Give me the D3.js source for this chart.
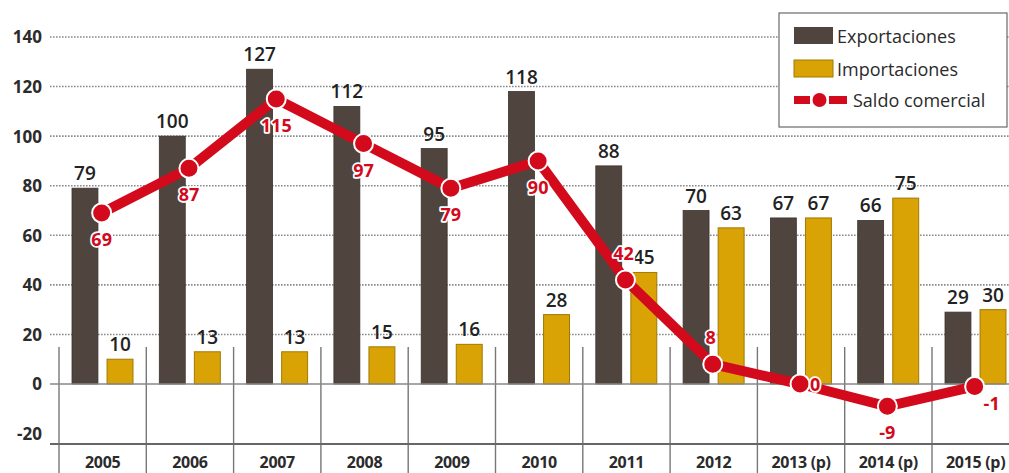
<!DOCTYPE html>
<html>
<head>
<meta charset="utf-8">
<script src="https://cdn.jsdelivr.net/npm/d3@7"></script>
<style>
  html, body { margin: 0; padding: 0; background: #fff; }
  svg { display: block; font-family: "Open Sans", "DejaVu Sans", sans-serif; }
</style>
</head>
<body>
<svg id="chart" width="1009" height="473"></svg>
<script>
// Balanza comercial: exportaciones, importaciones y saldo
const years = ["2005", "2006", "2007", "2008", "2009", "2010", "2011", "2012", "2013 (p)", "2014 (p)", "2015 (p)"];
const exportaciones = [79, 100, 127, 112, 95, 118, 88, 70, 67, 66, 29];
const importaciones = [10, 13, 13, 15, 16, 28, 45, 63, 67, 75, 30];
const saldo = [69, 87, 115, 97, 79, 90, 42, 8, 0, -9, -1];
const yTicks = [140, 120, 100, 80, 60, 40, 20, 0, -20];
const legendLabels = ["Exportaciones", "Importaciones", "Saldo comercial"];

// where each balance label sits relative to its point
const saldoLabelSide = ["below", "below", "below", "below", "below", "below", "above", "above", "right", "below", "belowright"];

const COL_EXP = "#4f453e", COL_IMP = "#d9a205", COL_IMP_EDGE = "#a07a00", COL_RED = "#d20a1c";

const svg = d3.select("#chart");
const W = 1009, H = 473;

const y = d3.scaleLinear().domain([0, 140]).range([384, 37]);
const x = d3.scaleBand().domain(years).range([59, 59 + 87.3 * years.length]).padding(0);
const sub = d3.scaleBand().domain(["exp", "imp"]).range([13, 74]).paddingInner(0.26);

const gridLeft = 50;

// dotted gridlines
const grid = svg.append("g");
yTicks.filter(t => t > 0).forEach(t => {
  grid.append("line")
    .attr("x1", gridLeft).attr("x2", W)
    .attr("y1", y(t)).attr("y2", y(t))
    .attr("stroke", "#8a8a8a").attr("stroke-width", 1.6)
    .attr("stroke-dasharray", "1.6,1.4");
});

// y axis labels (plain hyphen for negatives)
const yAxis = d3.axisLeft(y).tickValues(yTicks).tickSize(0).tickPadding(0)
  .tickFormat(d => String(d));
const ya = svg.append("g").attr("transform", "translate(42,0)").call(yAxis);
ya.select(".domain").remove();
ya.selectAll("text")
  .attr("font-family", "'Open Sans', sans-serif")
  .attr("font-size", 17).attr("font-weight", 700).attr("fill", "#2b2b2b")
  .attr("dy", "0.35em");

// category separators and bottom rule
years.forEach(yr => {
  svg.append("line")
    .attr("x1", x(yr)).attr("x2", x(yr))
    .attr("y1", 347).attr("y2", H)
    .attr("stroke", "#777").attr("stroke-width", 1.4);
});
svg.append("line")
  .attr("x1", gridLeft).attr("x2", W).attr("y1", 444).attr("y2", 444)
  .attr("stroke", "#666").attr("stroke-width", 2);

// bars
const barW = sub.bandwidth();
const gBars = svg.append("g");
years.forEach((yr, i) => {
  gBars.append("rect")
    .attr("x", x(yr) + sub("exp")).attr("width", barW)
    .attr("y", y(exportaciones[i])).attr("height", y(0) - y(exportaciones[i]))
    .attr("fill", COL_EXP).attr("stroke", "#3a322c").attr("stroke-width", 0.8);
  gBars.append("rect")
    .attr("x", x(yr) + sub("imp")).attr("width", barW)
    .attr("y", y(importaciones[i])).attr("height", y(0) - y(importaciones[i]))
    .attr("fill", COL_IMP).attr("stroke", COL_IMP_EDGE).attr("stroke-width", 1);
});

// zero baseline
svg.append("line")
  .attr("x1", gridLeft).attr("x2", W).attr("y1", y(0)).attr("y2", y(0))
  .attr("stroke", "#888").attr("stroke-width", 1.5);

// bar value labels
const gVals = svg.append("g")
  .attr("font-family", "'Open Sans', sans-serif")
  .attr("font-size", 19).attr("font-weight", 600).attr("fill", "#222")
  .attr("text-anchor", "middle");
years.forEach((yr, i) => {
  gVals.append("text")
    .attr("x", x(yr) + sub("exp") + barW / 2).attr("y", y(exportaciones[i]) - 8)
    .text(exportaciones[i]);
  gVals.append("text")
    .attr("x", x(yr) + sub("imp") + barW / 2).attr("y", y(importaciones[i]) - 8)
    .text(importaciones[i]);
});

// x labels
const gX = svg.append("g")
  .attr("font-family", "'Open Sans', sans-serif")
  .attr("font-size", 16).attr("font-weight", 700).attr("fill", "#2b2b2b")
  .attr("text-anchor", "middle");
years.forEach(yr => {
  gX.append("text").attr("x", x(yr) + x.bandwidth() / 2).attr("y", 468)
    .attr("letter-spacing", "-0.3").text(yr);
});

// balance line
const cx = yr => x(yr) + x.bandwidth() / 2 - 1;
const line = d3.line().x((d, i) => cx(years[i])).y(d => y(d));
svg.append("path").datum(saldo)
  .attr("d", line).attr("fill", "none")
  .attr("stroke", COL_RED).attr("stroke-width", 10).attr("stroke-linejoin", "round");
svg.append("g").selectAll("circle").data(saldo).join("circle")
  .attr("cx", (d, i) => cx(years[i])).attr("cy", d => y(d))
  .attr("r", 9.5).attr("fill", COL_RED).attr("stroke", "#fff").attr("stroke-width", 2);

// balance labels
const offsets = {
  below: [0, 33], above: [-2, -20], right: [15, 7], belowright: [17, 24]
};
const gS = svg.append("g")
  .attr("font-family", "'Open Sans', sans-serif")
  .attr("font-size", 18).attr("font-weight", 700).attr("fill", COL_RED)
  .attr("text-anchor", "middle");
saldo.forEach((v, i) => {
  const o = offsets[saldoLabelSide[i]];
  gS.append("text")
    .attr("x", cx(years[i]) + o[0]).attr("y", y(v) + o[1])
    .attr("stroke", "#fff").attr("stroke-width", 3.5).attr("paint-order", "stroke")
    .attr("stroke-linejoin", "round")
    .text(v);
});

// legend
const lg = svg.append("g");
lg.append("rect").attr("x", 779).attr("y", 13).attr("width", 228).attr("height", 114)
  .attr("fill", "#fff").attr("stroke", "#6a6a6a").attr("stroke-width", 1.2);
lg.append("rect").attr("x", 794).attr("y", 27).attr("width", 39).attr("height", 17)
  .attr("fill", COL_EXP);
lg.append("rect").attr("x", 794).attr("y", 60).attr("width", 39).attr("height", 17)
  .attr("fill", COL_IMP).attr("stroke", COL_IMP_EDGE).attr("stroke-width", 1);
lg.append("rect").attr("x", 794).attr("y", 96).attr("width", 16).attr("height", 8).attr("fill", COL_RED);
lg.append("rect").attr("x", 829).attr("y", 96).attr("width", 18).attr("height", 8).attr("fill", COL_RED);
lg.append("circle").attr("cx", 819.5).attr("cy", 100).attr("r", 7).attr("fill", COL_RED);
const lt = lg.append("g")
  .attr("font-family", "'Open Sans', sans-serif")
  .attr("font-size", 18).attr("fill", "#2b2b2b");
lt.append("text").attr("x", 837).attr("y", 43).text(legendLabels[0]);
lt.append("text").attr("x", 837).attr("y", 76).text(legendLabels[1]);
lt.append("text").attr("x", 853).attr("y", 107).text(legendLabels[2]);
</script>
</body>
</html>
